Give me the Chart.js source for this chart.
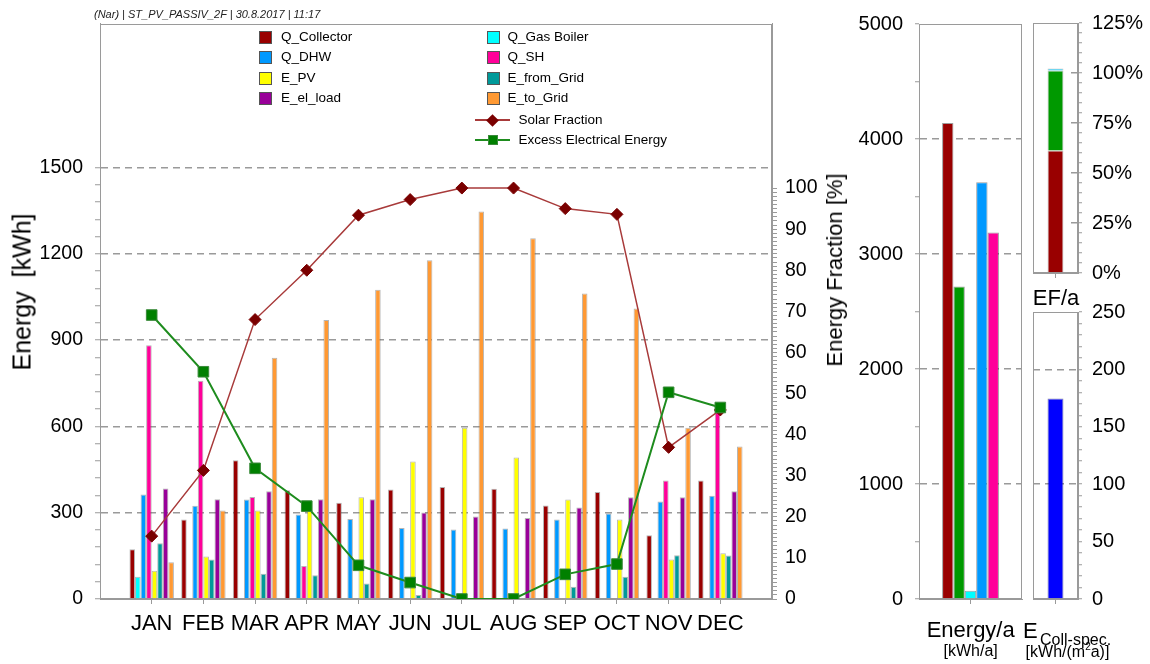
<!DOCTYPE html>
<html><head><meta charset="utf-8">
<script src="https://cdn.jsdelivr.net/npm/chart.js@4.4.1/dist/chart.umd.min.js"></script>
<style>
html,body{margin:0;padding:0;background:#fff;}
body{width:1150px;height:664px;position:relative;overflow:hidden;font-family:"Liberation Sans",Arial,sans-serif;color:#000;}
canvas{position:absolute;}
.t{position:absolute;white-space:pre;line-height:1;}
.rot{transform:translate(-50%,-50%) rotate(-90deg);}
.ctr{transform:translate(-50%,-50%);}
.sq{position:absolute;width:11px;height:11px;border:1px solid #555;}
</style></head><body>
<canvas id="main" width="860" height="664" style="left:0px;top:0px"></canvas>
<canvas id="annual" width="180" height="664" style="left:850px;top:0px"></canvas>
<canvas id="ef" width="125" height="300" style="left:1025px;top:0px"></canvas>
<canvas id="coll" width="125" height="374" style="left:1025px;top:290px"></canvas>
<div id="overlay"></div>
<script>
// ---------- DATA ----------
const months = ['JAN','FEB','MAR','APR','MAY','JUN','JUL','AUG','SEP','OCT','NOV','DEC'];
const qCollector = [173, 276, 482, 378, 335, 381, 389, 383, 325, 372, 222, 412];
const qGasBoiler = [77, 0, 0, 0, 0, 0, 0, 0, 0, 0, 0, 0];
const qDHW = [363, 324, 346, 294, 278, 247, 242, 245, 276, 297, 339, 359];
const qSH = [882, 759, 355, 115, 0, 0, 0, 0, 0, 0, 412, 660];
const ePV = [98, 148, 308, 308, 354, 478, 595, 492, 346, 276, 137, 159];
const eFromGrid = [194, 137, 88, 83, 54, 14, 0, 0, 43, 77, 152, 151];
const eElLoad = [384, 347, 375, 347, 347, 301, 287, 282, 318, 354, 354, 375];
const eToGrid = [128, 308, 839, 970, 1075, 1178, 1347, 1254, 1062, 1010, 595, 530];
const solarFraction = [15.3, 31.3, 68.0, 80.0, 93.4, 97.2, 100, 100, 95.0, 93.6, 36.9, 46.0];
const excessElectrical = [69.1, 55.3, 31.8, 22.6, 8.2, 4.0, 0, 0, 6.0, 8.5, 50.3, 46.6];
const barNames = ['Q_Collector','Q_Gas Boiler','Q_DHW','Q_SH','E_PV','E_from_Grid','E_el_load','E_to_Grid'];
const lineNames = ['Solar Fraction','Excess Electrical Energy'];

const annualNames = ['Q_Collector','Q_Solar_Use','Q_Gas Boiler','Q_DHW','Q_SH'];
const annualValues = [4140, 2717, 72, 3625, 3186];
const efNames = ['Solar','Electrical','Gas'];
const efValues = [61.3, 40.0, 0.9];
const collSpecific = [174.7];

const mainYTicks = [0, 300, 600, 900, 1200, 1500];
const fracTicks = [0, 10, 20, 30, 40, 50, 60, 70, 80, 90, 100];

// ---------- STYLES ----------
const barColors = ['#990000','#00FFFF','#0099FF','#FF0099','#FFFF00','#009999','#990099','#FF9933'];
const annualColors = ['#990000','#009900','#00FFFF','#0099FF','#FF0099'];
const efColors = ['#990000','#009900','#00CCFF'];
const barSeries = [qCollector, qGasBoiler, qDHW, qSH, ePV, eFromGrid, eElLoad, eToGrid];

Chart.defaults.font.family = '"Liberation Sans", Arial, sans-serif';
Chart.defaults.color = '#000';
const GRID = '#9a9a9a';

const boxPlugin = {
  id: 'box',
  beforeDatasetsDraw(chart) {
    const {ctx, chartArea: a} = chart;
    ctx.save();
    ctx.strokeStyle = GRID; ctx.lineWidth = 1;
    ctx.strokeRect(Math.round(a.left) + 0.5, Math.round(a.top) + 0.5,
      Math.round(a.right - a.left) - 1, Math.round(a.bottom - a.top) - 1);
    ctx.restore();
  }
};
const common = {
  responsive: false, animation: false, devicePixelRatio: 1, events: [],
  plugins: {legend: {display: false}, tooltip: {enabled: false}}
};

// ---------- MAIN CHART ----------
const monthX = months.map((m, i) => i + 1);
const datasets = barSeries.map((vals, k) => ({
  type: 'bar', label: barNames[k],
  data: vals.map((v, i) => ({x: monthX[i], y: v})),
  backgroundColor: barColors[k], borderColor: 'rgba(90,90,90,0.45)', borderWidth: 1,
  barPercentage: 1, categoryPercentage: 0.86, yAxisID: 'y', order: 3
}));
datasets.push({
  type: 'line', label: lineNames[0], yAxisID: 'y2', order: 1,
  data: solarFraction.map((v, i) => ({x: monthX[i], y: v})),
  borderColor: '#A83A3A', borderWidth: 1.5, tension: 0,
  pointStyle: 'rectRot', pointRadius: 6, pointBackgroundColor: '#7A0000', pointBorderColor: '#7A0000', pointBorderWidth: 1
});
datasets.push({
  type: 'line', label: lineNames[1], yAxisID: 'y2', order: 0,
  data: excessElectrical.map((v, i) => ({x: monthX[i], y: v})),
  borderColor: '#1E8C1E', borderWidth: 2, tension: 0,
  pointStyle: 'rect', pointRadius: 7.5, pointBackgroundColor: '#008000', pointBorderColor: '#3A8A3A', pointBorderWidth: 1
});

new Chart(document.getElementById('main'), {
  type: 'bar',
  data: {datasets},
  options: Object.assign({}, common, {
    layout: {padding: {top: 22, left: 0, right: 0, bottom: 0}},
    scales: {
      x: {
        type: 'linear', min: 0, max: 13, offset: false, position: 'bottom',
        afterBuildTicks: s => { s.ticks = s.ticks.filter(t => t.value >= 1 && t.value <= 12); },
        afterFit: s => { s.height = 65; },
        ticks: {stepSize: 1, autoSkip: false, maxRotation: 0, minRotation: 0, padding: 7,
          font: {size: 22}, color: '#000', callback: v => months[v - 1] || ''},
        grid: {offset: false, drawOnChartArea: false, drawTicks: true, tickLength: 5, tickColor: GRID},
        border: {color: GRID, width: 1}
      },
      y: {
        type: 'linear', position: 'left', min: 0, max: 2000,
        afterBuildTicks: s => { s.ticks = s.ticks.filter(t => t.value <= mainYTicks[mainYTicks.length - 1]); },
        afterFit: s => { s.width = 100; },
        ticks: {stepSize: 60, autoSkip: false, padding: 12, font: {size: 19.5}, color: '#000',
          callback: v => mainYTicks.includes(v) ? String(v) : ''},
        grid: {color: c => (c.tick && mainYTicks.includes(c.tick.value) && c.tick.value > 0) ? GRID : 'rgba(0,0,0,0)',
          tickColor: GRID, tickLength: 5, lineWidth: 1.5, tickWidth: 1},
        border: {color: GRID, width: 1, dash: [7, 5]}
      },
      y2: {
        type: 'linear', position: 'right', min: 0, max: 140,
        afterBuildTicks: s => { s.ticks = s.ticks.filter(t => t.value <= fracTicks[fracTicks.length - 1]); },
        afterFit: s => { s.width = 88; },
        ticks: {stepSize: 1, autoSkip: false, padding: 8, font: {size: 19.5}, color: '#000',
          callback: v => fracTicks.includes(v) ? String(v) : ''},
        grid: {drawOnChartArea: false, tickColor: GRID, tickLength: 5},
        border: {color: GRID, width: 1}
      }
    }
  }),
  plugins: [boxPlugin]
});

// ---------- ANNUAL ENERGY ----------
new Chart(document.getElementById('annual'), {
  type: 'bar',
  data: {labels: [''], datasets: annualValues.map((v, k) => ({
    label: annualNames[k], data: [v], backgroundColor: annualColors[k],
    borderColor: 'rgba(60,60,60,0.5)', borderWidth: 1, barPercentage: 1, categoryPercentage: 0.552
  }))},
  options: Object.assign({}, common, {
    layout: {padding: {top: 23, right: 8, left: 0, bottom: 0}},
    scales: {
      x: {offset: true, afterFit: s => { s.height = 65; },
        grid: {offset: false, drawOnChartArea: false, tickLength: 5, tickColor: GRID},
        border: {color: GRID}, ticks: {padding: 0}},
      y: {min: 0, max: 5000, afterFit: s => { s.width = 69; },
        ticks: {stepSize: 500, autoSkip: false, padding: 12, font: {size: 20}, color: '#000',
          callback: v => v % 1000 === 0 ? String(v) : ''},
        grid: {color: c => (c.tick && c.tick.value % 1000 === 0 && c.tick.value > 0 && c.tick.value < 5000) ? GRID : 'rgba(0,0,0,0)',
          tickColor: GRID, tickLength: 4, lineWidth: 1.5, tickWidth: 1},
        border: {color: GRID, dash: [7, 5]}}
    }
  }),
  plugins: [boxPlugin]
});

// ---------- EF/a ----------
new Chart(document.getElementById('ef'), {
  type: 'bar',
  data: {labels: [''], datasets: efValues.map((v, k) => ({
    label: efNames[k], data: [v], backgroundColor: efColors[k],
    borderColor: 'rgba(60,60,60,0.3)', borderWidth: 1, barPercentage: 1, categoryPercentage: 0.355
  }))},
  options: Object.assign({}, common, {
    layout: {padding: {top: 23, left: 8, right: 0, bottom: 0}},
    scales: {
      x: {stacked: true, offset: true, afterFit: s => { s.height = 27; },
        grid: {offset: false, drawOnChartArea: false, tickLength: 5, tickColor: GRID},
        border: {color: GRID}, ticks: {padding: 0}},
      y: {stacked: true, position: 'right', min: 0, max: 125, afterFit: s => { s.width = 72; },
        ticks: {stepSize: 5, autoSkip: false, padding: 10, font: {size: 20}, color: '#000',
          callback: v => v % 25 === 0 ? v + '%' : ''},
        grid: {color: c => (c.tick && c.tick.value % 25 === 0 && c.tick.value > 0 && c.tick.value < 125) ? GRID : 'rgba(0,0,0,0)',
          tickColor: GRID, tickLength: 4, lineWidth: 1.5, tickWidth: 1},
        border: {color: GRID, dash: [0, 38, 7, 60]}}
    }
  }),
  plugins: [boxPlugin]
});

// ---------- E Coll-spec ----------
new Chart(document.getElementById('coll'), {
  type: 'bar',
  data: {labels: [''], datasets: [{
    label: 'E_Coll-spec.', data: collSpecific, backgroundColor: '#0000FF',
    borderColor: 'rgba(0,0,90,0.5)', borderWidth: 1, barPercentage: 1, categoryPercentage: 0.355
  }]},
  options: Object.assign({}, common, {
    layout: {padding: {top: 21, left: 8, right: 0, bottom: 0}},
    scales: {
      x: {offset: true, afterFit: s => { s.height = 65; },
        grid: {offset: false, drawOnChartArea: false, tickLength: 5, tickColor: GRID},
        border: {color: GRID}, ticks: {padding: 0}},
      y: {position: 'right', min: 0, max: 250, afterFit: s => { s.width = 72; },
        ticks: {stepSize: 10, autoSkip: false, padding: 10, font: {size: 20}, color: '#000',
          callback: v => v % 50 === 0 ? String(v) : ''},
        grid: {color: c => (c.tick && c.tick.value % 100 === 0 && c.tick.value > 0) ? GRID : 'rgba(0,0,0,0)',
          tickColor: GRID, tickLength: 4, lineWidth: 1.5, tickWidth: 1},
        border: {color: GRID, dash: [7, 5]}}
    }
  }),
  plugins: [boxPlugin]
});

// ---------- TEXT / LEGEND (HTML) ----------
const ov = document.getElementById('overlay');
function addText(txt, x, y, size, cls, extra) {
  const d = document.createElement('div');
  d.className = 't ' + (cls || '');
  d.style.left = x + 'px'; d.style.top = y + 'px'; d.style.fontSize = size + 'px';
  if (extra) Object.assign(d.style, extra);
  d.innerHTML = txt;
  ov.appendChild(d);
  return d;
}
addText('(Nar) | ST_PV_PASSIV_2F | 30.8.2017 | 11:17', 94, 9, 11, '', {fontStyle: 'italic', color: '#222'});
addText('Energy  [kWh]', 22, 291.5, 25, 'rot');
addText('Energy Fraction [%]', 835, 270, 22, 'rot');
addText('EF/a', 1056, 297.5, 22, 'ctr');
addText('Energy/a', 970.7, 630, 22, 'ctr');
addText('[kWh/a]', 970.7, 651, 16, 'ctr');
addText('E', 1023, 620, 22, '');
addText('Coll-spec.', 1040, 632, 16, '');
addText('[kWh/(m<sup style="font-size:10px">2</sup>a)]', 1067.5, 651, 16, 'ctr');

const rowY = [37.3, 57.3, 77.7, 97.7];
barNames.forEach((name, k) => {
  const col = k % 2, row = Math.floor(k / 2);
  const sq = document.createElement('div');
  sq.className = 'sq';
  sq.style.left = (col ? 486.5 : 259) + 'px';
  sq.style.top = (rowY[row] - 6) + 'px';
  sq.style.background = barColors[k];
  ov.appendChild(sq);
  addText(name, col ? 507.5 : 281, rowY[row] - 7, 13.5, '');
});
const lineRowY = [120, 140];
const lineStyles = [
  {line: '#A83A3A', fill: '#7A0000', rot: true, size: 9},
  {line: '#1E8C1E', fill: '#008000', rot: false, size: 10}
];
lineNames.forEach((name, k) => {
  const st = lineStyles[k], y = lineRowY[k];
  const ln = document.createElement('div');
  Object.assign(ln.style, {position: 'absolute', left: '475px', top: (y - 1) + 'px', width: '35px', height: '2px', background: st.line});
  ov.appendChild(ln);
  const mk = document.createElement('div');
  Object.assign(mk.style, {position: 'absolute', left: (492.5 - st.size / 2) + 'px', top: (y - st.size / 2) + 'px',
    width: st.size + 'px', height: st.size + 'px', background: st.fill,
    transform: st.rot ? 'rotate(45deg)' : 'none', boxSizing: 'border-box', border: st.rot ? 'none' : '1px solid #3A8A3A'});
  ov.appendChild(mk);
  addText(name, 518.5, y - 7, 13.5, '');
});
</script>
</body></html>
